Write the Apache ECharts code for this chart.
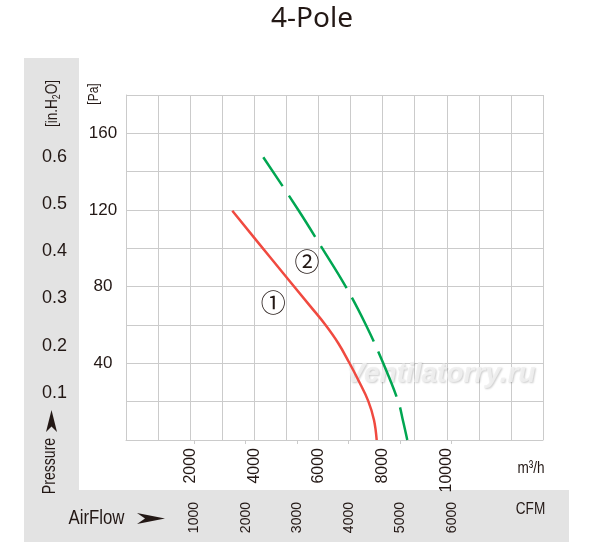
<!DOCTYPE html>
<html>
<head>
<meta charset="utf-8">
<script src="https://cdn.jsdelivr.net/npm/echarts@6/dist/echarts.min.js"></script>
<style>
html,body{margin:0;padding:0;background:#fff;}
#chart{width:600px;height:552px;}
</style>
</head>
<body>
<div id="chart"></div>
<script>
// ---- data ----
const flowLabels = [2000, 4000, 6000, 8000, 10000];      // m3/h tick labels
const cfmTicks = [1000, 2000, 3000, 4000, 5000, 6000];     // CFM tick labels
const paLabels = [40, 80, 120, 160];                       // Pa tick labels
const inchLabels = [0.1, 0.2, 0.3, 0.4, 0.5, 0.6];         // in.H2O tick labels

const curve1Flow = [3314, 4500, 5736, 6203, 6618, 6961, 7241, 7553, 7731, 7815];
const curve1Pa   = [119.6, 95.2, 70, 60.4, 50.5, 40.3, 31.3, 20.3, 10.4, 0];
const curve2Flow = [4280, 5372, 6100, 6850, 7480, 8020, 8489, 8635, 8769];
const curve2Pa   = [147.5, 120, 100.5, 80, 60, 40, 20, 10, 0];

const curveNames = ['①', '②'];
const curveNotes = [[4592, 71.6], [5640, 93.2]];

// ---- styling ----
const TXT = '#231815';
const GRID = '#cbcbcb';
const ARIAL = "'Liberation Sans', Arial, sans-serif";
const NARROW_SCALE = 0.8;

const chart = echarts.init(document.getElementById('chart'));

function pairs(xs, ys) { return xs.map((x, i) => [x, ys[i]]); }
function near(v, list) { return list.some(l => Math.abs(l - v) < 1e-6); }
function narrowText(text, x, y, size, rot, extra) {
  return Object.assign({
    type: 'text', z: 5, silent: true, x: x, y: y,
    rotation: rot ? Math.PI / 2 : 0,
    scaleX: NARROW_SCALE, scaleY: 1,
    style: { text: text, fontFamily: ARIAL, fontSize: size, fill: TXT, align: 'center', verticalAlign: 'middle' }
  }, extra || {});
}

const option = {
  animation: false,
  title: {
    text: '4-Pole',
    left: 266,
    top: 0,
    textStyle: { fontFamily: "'Noto Sans', sans-serif", fontSize: 28, fontWeight: 'normal', color: TXT }
  },
  grid: { left: 126, top: 95, width: 417, height: 345, containLabel: false },
  xAxis: [
    {
      type: 'value', position: 'bottom', min: 0, max: 13000, interval: 1000,
      axisLine: { show: true, lineStyle: { color: GRID, width: 1 } },
      axisTick: { show: false },
      splitLine: { show: true, lineStyle: { color: GRID, width: 1 } },
      axisLabel: {
        rotate: 90, margin: 8, color: TXT, fontFamily: ARIAL, fontSize: 16,
        formatter: v => near(v, flowLabels) ? String(v) : ''
      }
    },
    {
      type: 'value', position: 'bottom', min: -326, max: 7774,
      axisLine: { show: false },
      axisTick: { show: true, customValues: cfmTicks, length: 4, lineStyle: { color: GRID } },
      splitLine: { show: false },
      axisLabel: {
        customValues: cfmTicks, rotate: 90, margin: 62, color: TXT, fontFamily: ARIAL, fontSize: 14,
        formatter: v => String(v)
      }
    }
  ],
  yAxis: [
    {
      type: 'value', position: 'left', min: 0, max: 180, interval: 20,
      axisLine: { show: true, lineStyle: { color: GRID, width: 1 } },
      axisTick: { show: false },
      splitLine: { show: true, lineStyle: { color: GRID, width: 1 } },
      axisLabel: {
        align: 'center', margin: 23, color: TXT, fontFamily: ARIAL, fontSize: 17,
        formatter: v => near(v, paLabels) ? String(v) : ''
      }
    },
    {
      type: 'value', position: 'left', min: 0, max: 0.7316,
      axisLine: { show: false },
      axisTick: { show: false },
      splitLine: { show: false },
      axisLabel: {
        customValues: inchLabels, align: 'center', margin: 71.5, color: TXT, fontFamily: ARIAL, fontSize: 18,
        formatter: v => v.toFixed(1)
      }
    }
  ],
  graphic: [
    { type: 'rect', z: -10, silent: true, shape: { x: 24, y: 58, width: 55, height: 484 }, style: { fill: '#e3e3e3' } },
    { type: 'rect', z: -10, silent: true, shape: { x: 24, y: 490, width: 545, height: 52 }, style: { fill: '#e3e3e3' } },
    // watermark
    { type: 'text', z: 1, silent: true, x: 441, y: 374,
      style: { text: 'Ventilatorry.ru', fontFamily: ARIAL, fontSize: 28, fontWeight: 'bold', fontStyle: 'italic',
               fill: 'rgba(240,240,240,0.9)', align: 'center', verticalAlign: 'middle',
               textShadowColor: 'rgba(0,0,0,0.22)', textShadowBlur: 2, textShadowOffsetX: 1, textShadowOffsetY: 1 } },
    // axis titles
    narrowText('[Pa]', 94, 94, 15, true),
    { type: 'text', z: 5, silent: true, x: 52.5, y: 103.5, rotation: Math.PI / 2, scaleX: NARROW_SCALE,
      style: { text: '{a|[in.H}{s|2}{a|O]}', fill: TXT, align: 'center', verticalAlign: 'middle',
               rich: { a: { fontFamily: ARIAL, fontSize: 17, fill: TXT },
                       s: { fontFamily: ARIAL, fontSize: 11, fill: TXT, padding: [8, 0, 0, 0] } } } },
    narrowText('Pressure', 50, 466, 19, true, { scaleX: 0.74 }),
    { type: 'polygon', z: 5, silent: true, shape: { points: [[51.5, 410], [57, 432], [51.5, 426.5], [46, 432]] }, style: { fill: TXT } },
    narrowText('AirFlow', 96.5, 518, 21, false),
    { type: 'polygon', z: 5, silent: true, shape: { points: [[165, 518.5], [137, 513], [145, 518.5], [137, 524]] }, style: { fill: TXT } },
    narrowText('m³/h', 531, 468, 17, false),
    narrowText('CFM', 530.5, 509, 17, false)
  ],
  series: [
    {
      name: curveNames[0], type: 'line', xAxisIndex: 0, yAxisIndex: 0, z: 3,
      data: pairs(curve1Flow, curve1Pa), showSymbol: false, symbol: 'none', smooth: 0.4,
      lineStyle: { color: '#f04a40', width: 2.5 },
      markPoint: {
        symbol: 'circle', symbolSize: 1, itemStyle: { color: 'rgba(0,0,0,0)' },
        label: { show: true, position: 'inside', formatter: curveNames[0], fontFamily: "'Noto Sans CJK JP', 'DejaVu Sans'", fontSize: 25, color: TXT },
        data: [{ coord: curveNotes[0] }]
      }
    },
    {
      name: curveNames[1], type: 'line', xAxisIndex: 0, yAxisIndex: 0, z: 3,
      data: pairs(curve2Flow, curve2Pa), showSymbol: false, symbol: 'none', smooth: 0.4,
      lineStyle: { color: '#00a651', width: 2.5, type: [49, 11], dashOffset: 14 },
      markPoint: {
        symbol: 'circle', symbolSize: 1, itemStyle: { color: 'rgba(0,0,0,0)' },
        label: { show: true, position: 'inside', formatter: curveNames[1], fontFamily: "'Noto Sans CJK JP', 'DejaVu Sans'", fontSize: 25, color: TXT },
        data: [{ coord: curveNotes[1] }]
      }
    }
  ]
};
chart.setOption(option);
</script>
</body>
</html>
